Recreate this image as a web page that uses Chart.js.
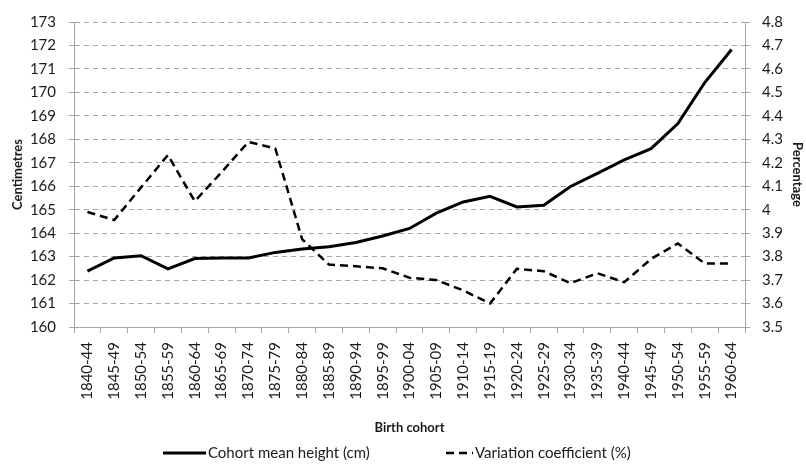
<!DOCTYPE html>
<html>
<head>
<meta charset="utf-8">
<script src="https://cdn.jsdelivr.net/npm/chart.js@4/dist/chart.umd.min.js"></script>
<style>
  body { margin: 0; background: #fff; }
</style>
</head>
<body>
<canvas id="heightChart" width="806" height="466"></canvas>
<script>
const cohorts = ['1840-44', '1845-49', '1850-54', '1855-59', '1860-64', '1865-69', '1870-74',
  '1875-79', '1880-84', '1885-89', '1890-94', '1895-99', '1900-04', '1905-09', '1910-14',
  '1915-19', '1920-24', '1925-29', '1930-34', '1935-39', '1940-44', '1945-49', '1950-54',
  '1955-59', '1960-64'];

const meanHeight = [162.38, 162.94, 163.04, 162.48, 162.92, 162.94, 162.94, 163.18, 163.32,
  163.42, 163.6, 163.88, 164.2, 164.85, 165.33, 165.57, 165.12, 165.19, 165.99, 166.55,
  167.12, 167.6, 168.67, 170.42, 171.83];

const variationCoeff = [3.99, 3.956, 4.095, 4.233, 4.036, 4.16, 4.289, 4.261, 3.874, 3.766,
  3.759, 3.75, 3.71, 3.70, 3.656, 3.60, 3.748, 3.738, 3.687, 3.729, 3.691, 3.79, 3.856,
  3.771, 3.771];

const seriesNames = ['Cohort mean height (cm)', 'Variation coefficient (%)'];

Chart.defaults.font.family = 'Lato, "Open Sans", sans-serif';
Chart.defaults.font.size = 15;
Chart.defaults.color = '#1a1a1a';

const axisGrey = '#a6a6a6';

// legend drawn by hand: the two items sit far apart in the original
const legendPlugin = {
  id: 'wideLegend',
  afterDraw(chart) {
    const ctx = chart.ctx;
    const items = [
      { x1: 163, x2: 206 },
      { x1: 446, x2: 473 }
    ];
    const y = 453;
    ctx.save();
    ctx.font = '15px ' + Chart.defaults.font.family;
    ctx.textBaseline = 'middle';
    chart.data.datasets.forEach((ds, i) => {
      const it = items[i];
      ctx.strokeStyle = ds.borderColor;
      ctx.lineWidth = ds.borderWidth;
      ctx.setLineDash(ds.borderDash || []);
      ctx.beginPath();
      ctx.moveTo(it.x1, y);
      ctx.lineTo(it.x2, y);
      ctx.stroke();
      ctx.setLineDash([]);
      ctx.fillStyle = '#1a1a1a';
      ctx.fillText(ds.label, it.x2 + 2, y);
    });
    ctx.restore();
  }
};

const ctx = document.getElementById('heightChart').getContext('2d');
const heightChart = new Chart(ctx, {
  type: 'line',
  data: {
    labels: cohorts,
    datasets: [{
      label: seriesNames[0],
      data: meanHeight,
      yAxisID: 'y',
      borderColor: '#000',
      borderWidth: 3,
      pointRadius: 0,
      tension: 0,
      fill: false
    }, {
      label: seriesNames[1],
      data: variationCoeff,
      yAxisID: 'y2',
      borderColor: '#000',
      borderWidth: 2.5,
      borderDash: [8, 5],
      pointRadius: 0,
      tension: 0,
      fill: false
    }]
  },
  options: {
    responsive: false,
    animation: false,
    layout: { padding: { top: 19, bottom: 26, left: 0, right: 0 } },
    plugins: {
      legend: { display: false },
      tooltip: { enabled: false }
    },
    scales: {
      x: {
        offset: true,
        grid: {
          offset: true,
          drawOnChartArea: false,
          drawTicks: true,
          tickLength: 6,
          color: axisGrey
        },
        border: { display: true, color: axisGrey },
        ticks: {
          autoSkip: false,
          minRotation: 90,
          maxRotation: 90,
          padding: 9
        },
        title: {
          display: true,
          text: 'Birth cohort',
          font: { size: 13, weight: 'bold' },
          padding: { top: 0, bottom: 4 }
        },
        afterFit(scale) { scale.height = 113; }
      },
      y: {
        position: 'left',
        min: 160,
        max: 173,
        ticks: { stepSize: 1, padding: 13 },
        grid: {
          color: axisGrey,
          tickLength: 5,
          tickColor: axisGrey
        },
        border: { display: true, color: axisGrey, dash: [5, 4] },
        title: {
          display: true,
          text: 'Centimetres',
          font: { size: 13, weight: 'bold' },
          padding: { top: 10, bottom: 0 }
        },
        afterFit(scale) { scale.width = 74; }
      },
      y2: {
        position: 'right',
        min: 3.5,
        max: 4.8,
        ticks: {
          stepSize: 0.1,
          padding: 12,
          callback: v => String(+v.toFixed(1))
        },
        grid: {
          drawOnChartArea: false,
          tickLength: 5,
          color: axisGrey
        },
        border: { display: true, color: axisGrey },
        title: {
          display: true,
          text: 'Percentage',
          font: { size: 13, weight: 'bold' },
          padding: { top: 1, bottom: 0 }
        },
        afterFit(scale) { scale.width = 61; }
      }
    }
  },
  plugins: [legendPlugin]
});
</script>
</body>
</html>
